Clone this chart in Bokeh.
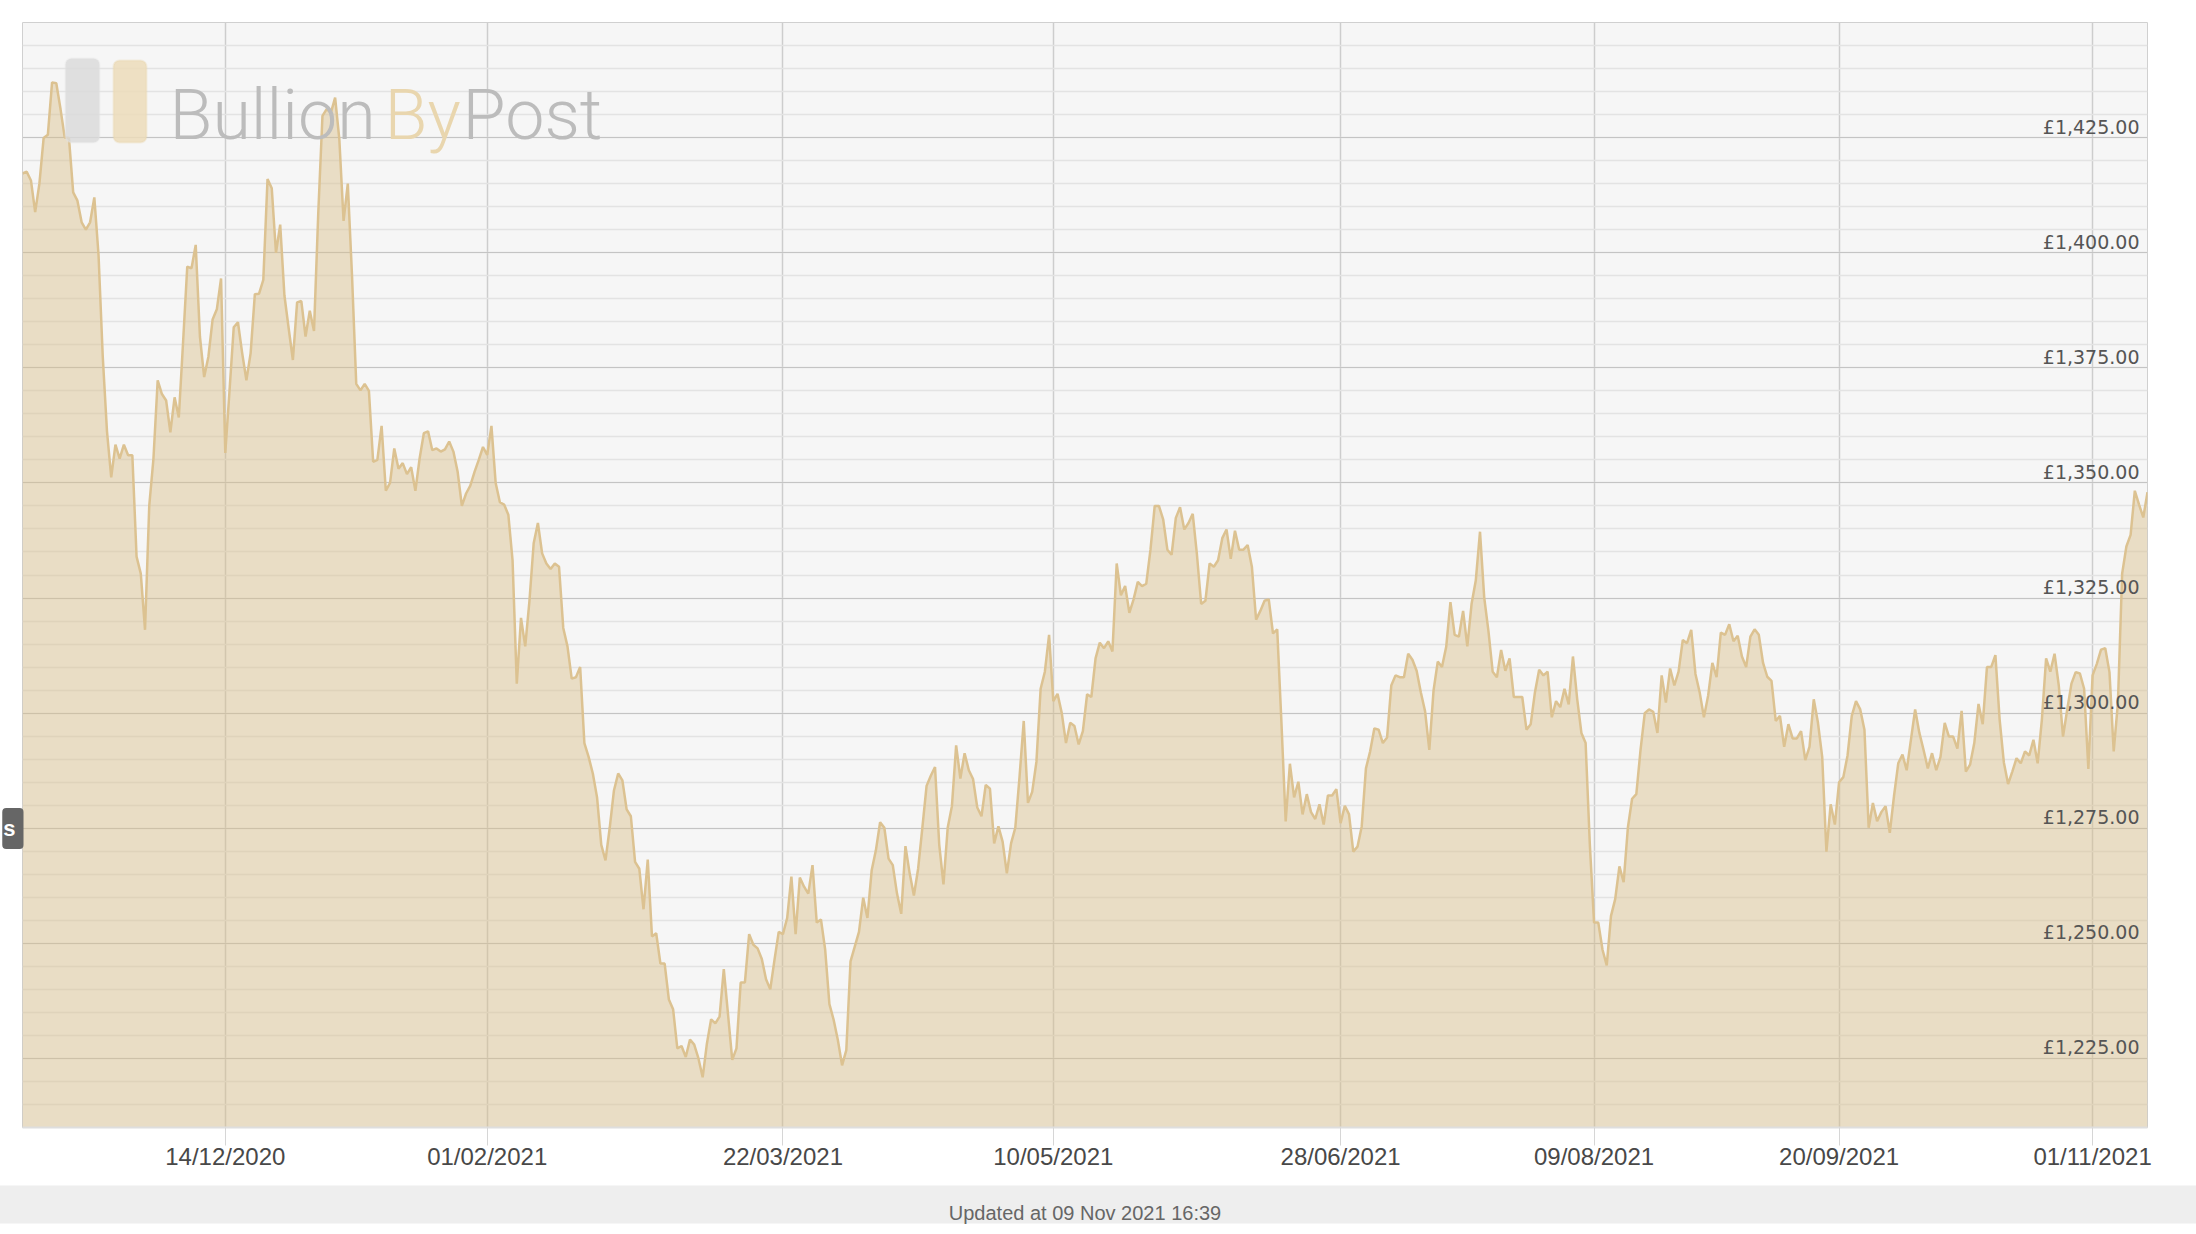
import numpy as np
from bokeh.plotting import figure
from bokeh.models import Range1d, FixedTicker, SingleIntervalTicker, Label, BoxAnnotation, Title
from bokeh.core.properties import value
from bokeh.embed import file_html
from bokeh.resources import INLINE

# Gold price per troy ounce (GBP), Nov 2020 - Nov 2021
price_nov_jan = [
    1417.2, 1417.6, 1415.7, 1408.8, 1415.0, 1424.9, 1425.6, 1437.0, 1436.8, 1431.2,
    1425.0, 1424.9, 1413.1, 1411.3, 1406.6, 1405.0, 1406.6, 1412.0, 1399.5, 1377.4,
    1361.2, 1351.2, 1358.3, 1355.3, 1358.3, 1356.0, 1356.0, 1334.0, 1330.3, 1318.1,
    1345.0, 1355.3, 1372.3, 1369.3, 1367.9, 1361.0, 1368.6, 1364.2, 1380.4, 1397.0,
    1396.6, 1401.7, 1381.8, 1373.0, 1377.4, 1385.5, 1387.7, 1394.4, 1356.5, 1370.0,
    1383.8, 1384.9, 1378.2, 1372.3, 1378.2, 1391.0, 1391.1, 1394.1, 1416.0, 1414.0,
    1400.0, 1406.1, 1390.7, 1383.6, 1376.7, 1389.2, 1389.5, 1381.8, 1387.4, 1383.0,
    1408.4, 1429.7, 1431.2, 1430.4, 1433.7, 1424.6, 1406.9, 1415.0, 1395.0, 1371.5,
    1370.1, 1371.5, 1370.0, 1354.6, 1355.0, 1362.4,
]
price_jan_mar = [
    1348.3, 1350.0, 1357.5, 1353.1, 1354.3, 1351.9, 1353.4, 1348.3, 1355.3, 1360.8,
    1361.2, 1357.1, 1357.5, 1356.8, 1357.3, 1359.0, 1356.8, 1352.4, 1345.0, 1347.7,
    1349.4, 1352.4, 1355.0, 1357.8, 1356.1, 1362.4, 1350.0, 1345.8, 1345.3, 1343.1,
    1333.2, 1306.4, 1320.7, 1314.5, 1324.4, 1336.9, 1341.3, 1334.7, 1332.5, 1331.3,
    1332.5, 1331.8, 1318.5, 1314.5, 1307.5, 1307.8, 1310.0, 1293.5, 1290.5, 1286.9,
    1281.7, 1271.4, 1268.0, 1275.1, 1283.2, 1286.9, 1285.4, 1279.1, 1277.6, 1267.7,
    1266.2, 1257.4, 1268.2, 1251.5, 1252.2, 1245.6, 1245.6, 1237.8, 1235.7, 1227.2,
    1227.7, 1225.3, 1229.1, 1228.0, 1225.0, 1220.9, 1228.2, 1233.5, 1232.6, 1234.1,
    1244.4, 1234.6, 1224.7, 1227.2,
]
price_mar_may = [
    1241.5, 1241.5, 1252.0, 1249.7, 1248.9, 1246.6, 1242.2, 1240.0, 1246.4, 1252.5,
    1252.0, 1255.5, 1264.5, 1252.0, 1264.3, 1262.3, 1260.8, 1267.0, 1254.5, 1255.2,
    1248.6, 1236.8, 1233.4, 1229.0, 1223.5, 1226.8, 1246.1, 1249.3, 1252.5, 1259.9,
    1255.5, 1265.8, 1270.2, 1276.3, 1275.1, 1268.4, 1267.0, 1260.8, 1256.4, 1271.1,
    1265.2, 1260.4, 1266.2, 1275.1, 1284.2, 1286.4, 1288.3, 1271.4, 1262.8, 1275.1,
    1279.8, 1293.0, 1285.8, 1291.3, 1287.6, 1285.7, 1279.5, 1277.6, 1284.4, 1283.6,
    1271.7, 1275.4, 1272.1, 1265.2, 1271.7, 1275.1, 1286.1, 1298.3, 1280.5, 1282.9,
    1289.4, 1305.3, 1309.0, 1317.0, 1302.6, 1304.2, 1300.0, 1293.5, 1297.9, 1297.2,
    1293.2, 1296.1, 1304.1, 1303.5,
]
price_may_jul = [
    1311.9, 1315.3, 1314.1, 1315.6, 1313.4, 1332.5, 1325.6, 1327.6, 1321.8, 1324.7,
    1328.5, 1327.6, 1328.1, 1335.5, 1345.0, 1345.0, 1342.1, 1335.5, 1334.4, 1342.4,
    1344.7, 1339.9, 1341.3, 1343.3, 1334.4, 1323.7, 1324.4, 1332.5, 1331.8, 1333.2,
    1338.0, 1339.9, 1333.5, 1339.6, 1335.5, 1335.5, 1336.5, 1331.8, 1320.3, 1322.2,
    1324.4, 1324.7, 1317.3, 1318.2, 1297.9, 1276.5, 1289.0, 1281.7, 1285.1, 1278.0,
    1282.4, 1278.5, 1277.0, 1280.2, 1275.8, 1282.1, 1282.1, 1283.5, 1276.1, 1279.9,
    1278.0, 1269.9, 1271.0, 1275.4, 1288.0, 1291.7, 1296.7, 1296.4, 1293.5, 1294.7,
    1306.0, 1308.2, 1307.8, 1307.8, 1312.9, 1311.6, 1309.2, 1304.5, 1300.4, 1292.0,
    1304.9, 1311.2, 1310.0, 1314.4,
]
price_jul_sep = [
    1324.1, 1317.0, 1316.6, 1322.2, 1314.5, 1323.7, 1328.8, 1339.4, 1325.1, 1317.8,
    1309.0, 1307.8, 1313.7, 1309.2, 1311.9, 1303.5, 1303.5, 1303.5, 1296.4, 1297.6,
    1304.5, 1309.4, 1308.2, 1309.0, 1299.1, 1302.6, 1301.3, 1305.3, 1301.9, 1312.3,
    1303.1, 1295.7, 1293.5, 1271.4, 1254.5, 1254.5, 1248.6, 1245.2, 1255.9, 1259.6,
    1266.7, 1263.3, 1275.1, 1281.4, 1282.4, 1292.0, 1300.0, 1300.8, 1300.3, 1295.7,
    1308.2, 1302.3, 1309.7, 1306.0, 1309.0, 1315.9, 1315.2, 1318.1, 1308.5, 1304.5,
    1299.1, 1303.8, 1310.9, 1307.8, 1317.5, 1317.0, 1319.3, 1315.6, 1316.8, 1312.3,
    1310.0, 1316.6, 1318.2, 1317.0, 1310.9, 1307.9, 1307.0, 1298.3, 1299.4, 1292.7,
    1297.6, 1294.5, 1294.5, 1296.1,
]
price_sep_nov = [
    1289.8, 1292.7, 1303.0, 1297.9, 1290.5, 1269.9, 1280.2, 1275.8, 1285.0, 1286.1,
    1290.8, 1299.4, 1302.6, 1300.8, 1296.4, 1275.1, 1280.5, 1276.5, 1278.5, 1279.8,
    1274.0, 1282.0, 1289.1, 1291.0, 1287.6, 1294.2, 1300.8, 1295.7, 1292.0, 1288.0,
    1291.3, 1287.6, 1290.5, 1297.9, 1294.9, 1294.9, 1292.3, 1300.5, 1287.3, 1288.8,
    1293.5, 1302.0, 1297.6, 1310.0, 1310.0, 1312.6, 1298.6, 1289.3, 1284.6, 1287.3,
    1290.2, 1289.1, 1291.7, 1290.8, 1294.2, 1289.1, 1298.6, 1311.9, 1309.0, 1312.9,
    1306.0, 1294.9, 1300.8, 1306.4, 1308.9, 1308.6, 1305.3, 1287.9, 1308.2, 1310.7,
    1313.8, 1314.1, 1308.9, 1291.7, 1302.3, 1330.3, 1336.2, 1338.7, 1348.3, 1345.3,
    1342.5, 1348.0,
]

price = (price_nov_jan + price_jan_mar + price_mar_may +
         price_may_jul + price_jul_sep + price_sep_nov)

# sample index of each dated tick, and its label
tick_index = [48, 110, 180, 244, 312, 372, 430, 490]
tick_labels = ["14/12/2020", "01/02/2021", "22/03/2021", "10/05/2021",
               "28/06/2021", "09/08/2021", "20/09/2021", "01/11/2021"]

y_ticks = [1225, 1250, 1275, 1300, 1325, 1350, 1375, 1400, 1425]
y_labels = ["£{:,.2f}".format(v) for v in y_ticks]
y_min, y_max = 1210, 1450
updated_text = "Updated at 09 Nov 2021 16:39"

N = len(price)
idx = np.arange(N)

p = figure(width=2196, height=1234,
           x_range=Range1d(0, N - 1), y_range=Range1d(y_min, y_max),
           y_axis_location=None, output_backend="svg", toolbar_location=None,
           min_border_left=22, min_border_right=49, min_border_top=22, min_border_bottom=105,
           background_fill_color="#f6f6f6", border_fill_color="white")
p.outline_line_color = "#d0d0d0"
p.outline_line_width = 1

# grids
p.ygrid.ticker = SingleIntervalTicker(interval=25, num_minor_ticks=5)
p.ygrid.grid_line_color = "#c4c4c4"
p.ygrid.grid_line_width = 1
p.ygrid.minor_grid_line_color = "#e3e3e3"
p.ygrid.minor_grid_line_width = 1.5
p.xgrid.grid_line_color = "#cdcdcd"
p.xgrid.grid_line_width = 1.5

# x axis
p.xaxis.ticker = FixedTicker(ticks=tick_index)
p.xaxis.major_label_overrides = dict(zip(tick_index, tick_labels))
p.xaxis.axis_line_color = "#dedede"
p.xaxis.axis_line_width = 2
p.xaxis.major_tick_line_color = "#d6d6d6"
p.xaxis.major_tick_line_width = 1
p.xaxis.major_tick_out = 18
p.xaxis.major_tick_in = 0
p.xaxis.minor_tick_line_color = None
p.xaxis.major_label_standoff = -3
p.xaxis.major_label_text_font = "Liberation Sans"
p.xaxis.major_label_text_font_size = "24px"
p.xaxis.major_label_text_color = "#484848"

# area + line
p.varea(x=idx, y1=y_min, y2=price, fill_color="#d9bf8a", fill_alpha=0.45)
p.line(idx, price, line_color="#dcc291", line_width=2.5)

# price labels inside the plot, right aligned
p.text(x=[N - 1] * len(y_ticks), y=y_ticks, text=y_labels,
       text_align="right", text_baseline="alphabetic", x_offset=-8, y_offset=-11,
       text_font=value("DejaVu Sans"), text_font_size="19px", text_color="#555555")

# logo
scr = dict(left_units="screen", right_units="screen", top_units="screen", bottom_units="screen")
p.add_layout(BoxAnnotation(left=43, right=77, top=1069, bottom=985, fill_color="#d9d9d9",
                           fill_alpha=0.8, line_color="#e4e4e4", line_width=2,
                           border_radius=6, **scr))
p.add_layout(BoxAnnotation(left=91, right=124, top=1067, bottom=985, fill_color="#ecdcba",
                           fill_alpha=0.85, line_color="#e7d3a9", line_width=2,
                           border_radius=6, **scr))
logo_font = "Roboto Light, Roboto, Liberation Sans"
for txt, xx, col in [("Bullion", 147, "#bcbcbc"), ("By", 362, "#e9d6ae"), ("Post", 440, "#bcbcbc")]:
    p.add_layout(Label(x=xx, y=1013, x_units="screen", y_units="screen", text=txt,
                       text_font=logo_font, text_font_size="70px", text_color=col,
                       text_baseline="alphabetic", text_align="left"))

# side tab at the page edge (in the left border panel)
p.add_layout(Label(x=22, y=299, x_units="screen", y_units="screen", text="s",
                   text_font="Liberation Sans", text_font_style="bold", text_font_size="22px",
                   text_color="white", text_align="right", text_baseline="middle",
                   background_fill_color="#666666", background_fill_alpha=1,
                   padding=(1, 8, 8, 8), border_radius=4), "left")

# footer band with update time
p.add_layout(Title(text=updated_text, align="center", vertical_align="bottom",
                   text_font="Liberation Sans", text_font_size="20px",
                   text_font_style="normal", text_color="#666666", standoff=22,
                   background_fill_color="#eeeeee", background_fill_alpha=1,
                   padding=(1200, 1200, 16, 0)), "below")

open("out.html", "w").write(file_html(p, INLINE))
